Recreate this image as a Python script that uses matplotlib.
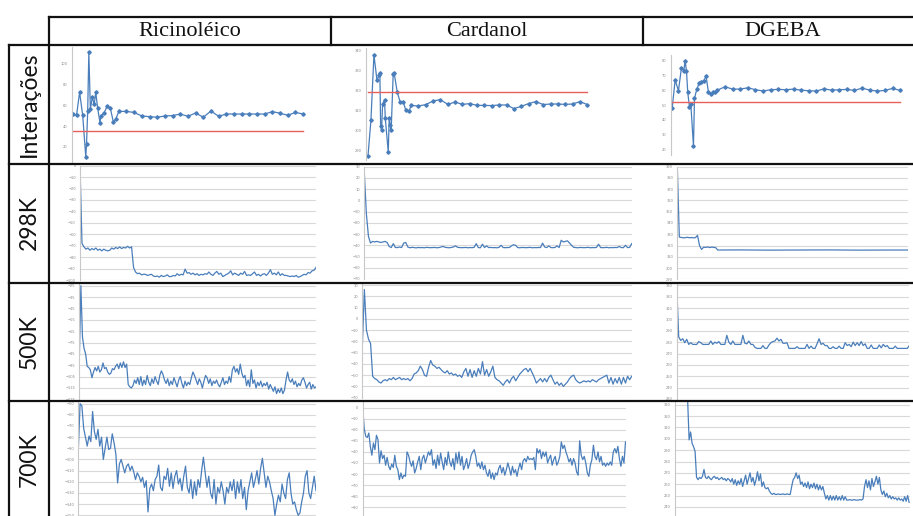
import matplotlib
matplotlib.use("Agg")
import numpy as np
import matplotlib.pyplot as plt
from matplotlib.lines import Line2D

# ---- table text ----
col_titles = ["Ricinoléico", "Cardanol", "DGEBA"]
row_titles = ["Interações", "298K", "500K", "700K"]

# ---- row 1: interaction energy vs iteration ----
iter_tail_x = [60, 70, 80, 90, 100, 110, 120, 130, 140, 150, 160, 170, 180,
               190, 200, 210, 220, 230, 240, 250, 260, 270, 280, 290, 300]

ric_it_x = [0, 5, 9, 13, 17, 18, 19.5, 21, 23, 25.5, 28, 30, 32.5, 35.5, 37,
            41, 45, 49, 53, 56] + iter_tail_x
ric_it_y = [51.5, 50.3, 72.3, 50.3, 10.8, 22.5, 54, 110.5, 56, 67.5, 60.8, 72.3,
            57, 43.3, 49.6, 52.8, 59.2, 57, 43.6, 46.5,
            54, 54, 53, 49.6, 49, 48.4, 49.6, 50, 51.5, 49.3, 52.5, 48.4, 54.4,
            49.3, 51.5, 51.5, 51.5, 51.5, 51.5, 51.5, 53.8, 52.2, 50.3, 53, 51.5]
ric_ref = 35.3

car_it_x = [1.4, 5.4, 9.5, 13.6, 16.7, 17.6, 18.6, 19.9, 21.3, 24, 24.9, 29,
            30.3, 31.7, 33, 35.7, 37.1, 41.2, 45.2, 49.3, 52.9, 57.5] + iter_tail_x
car_it_y = [287, 304.8, 337.5, 325, 327.5, 328.7, 302, 300, 313, 315, 306, 289,
            306, 302.5, 300, 328, 328.3, 319, 314, 314, 310, 309.5,
            312.3, 312, 312.7, 314.5, 315.2, 312.8, 314, 312.8, 313.2, 312.3,
            312.3, 312.2, 312.5, 312.5, 310.7, 311.8, 313.2, 314.2, 312.7, 313,
            313, 312.8, 313, 314.2, 312.7]
car_ref = 319.2

dge_it_x = [0.6, 4.5, 8.9, 12.8, 15.9, 17.6, 19.4, 21.1, 23.3, 25.1, 28.6, 29.9,
            32.9, 36, 39, 42.1, 45.2, 48.2, 51.7, 54.8, 57.4] + iter_tail_x
dge_it_y = [47.7, 66.9, 59.7, 75.3, 73, 80, 73.2, 58.6, 48.8, 50.7, 22.2, 54.5,
            60.6, 64.7, 65.8, 66.5, 69.6, 58.8, 57.7, 58.6, 58.6,
            60.1, 62.4, 60.8, 60.8, 61.7, 60.4, 59.5, 60.4, 60.6, 60.4, 60.8,
            60.1, 59.7, 59.5, 61, 60.1, 60.4, 60.6, 59.9, 61.5, 60.1, 59.5,
            59.9, 61.3, 59.9]
dge_ref = 52.2

# ---- row 2: 298K ----
ric_298 = [0, -68, -71, -73, -72, -74, -72.5, -73.5, -72, -74, -73, -74.5, -73,
           -74, -74.5, -74, -72, -73, -71.5, -72.5, -71, -72.5, -71.5, -72, -70.5,
           -72, -71, -89, -93, -94.5, -94, -95.5, -95, -95, -96, -95.5, -95, -96.5,
           -97, -96.5, -97.5, -96, -97, -96.5, -95.5, -97, -97, -96, -96.5, -94.5,
           -96, -95, -95.5, -90.5, -94, -93.5, -95, -94, -95.5, -94.5, -96, -95,
           -95.5, -94.5, -95, -93, -95, -96, -94, -92.5, -95, -94, -97, -96, -95,
           -94, -92, -95.5, -94, -95, -96, -94, -95, -92.5, -96, -95.5, -96, -94.5,
           -93, -96, -95, -96.5, -95, -94.5, -96, -94, -91, -95, -94, -95.5, -93,
           -96, -94.5, -96, -96, -96.5, -97, -96.5, -97, -96, -97.5, -97, -96, -95,
           -95.5, -93.5, -94, -92, -91.5, -89]

car_298 = [25, -12, -32, -38, -36.5, -37, -36.5, -37, -37.5, -37, -36.5, -37.5,
           -41, -42, -38.5, -42, -42, -41.5, -42, -38, -37.5, -41.5, -42.2, -41.8,
           -42, -42.3, -41.9, -42.1, -42, -42.2, -41.8, -42, -42.1, -42, -41.9,
           -42.2, -42, -41.5, -41, -41.8, -42, -42.2, -41.9, -41.5, -40.5, -41.8,
           -42, -42.1, -42, -41.9, -42.2, -42, -42.1, -41.8, -38.5, -42, -42.2,
           -39, -42, -40.5, -42, -41.9, -42.1, -42, -42.2, -41.8, -40, -42, -42.1,
           -42, -41.9, -40.5, -39.5, -40, -42, -42.2, -41.9, -42, -42.1, -42,
           -41.8, -42.2, -42, -42.1, -41.9, -42, -38, -41.5, -42, -40.5, -42,
           -42.1, -41.9, -40.5, -42, -35.5, -37, -36.5, -36, -38, -40, -41.8, -42,
           -42.2, -41.9, -42, -42.1, -42, -41.8, -42.2, -42, -42.1, -41.9, -39,
           -42, -42.1, -42, -41.8, -42.2, -42, -42.1, -41.9, -42, -41, -42, -42.1,
           -40, -42, -41.9, -38.5]

dge_298_x = [0, 1, 2, 3, 4, 5, 6, 7, 8, 9, 10, 11, 12, 13, 14, 15, 16, 17, 18,
             19, 20, 30, 45, 60, 75, 90, 105, 114]
dge_298_y = [390, 327.5, 327.2, 326.8, 327, 327.3, 326.9, 327.1, 326.8, 327, 329,
             320, 316.5, 318.5, 318.3, 318.7, 318.2, 318.6, 318.4, 318.1, 316,
             316.1, 315.9, 316, 316.1, 315.9, 316, 316]

# ---- row 3: 500K ----
ric_500 = [-91, -25, -70, -80, -85, -96, -97, -99, -106, -101, -97, -100, -96,
           -101, -99, -93, -98, -97, -101, -103, -102, -98, -99, -96, -94, -98,
           -93, -97, -92, -97, -94, -112, -114, -115, -113, -108, -111, -106,
           -112, -105, -113, -108, -112, -104, -110, -113, -107, -111, -105, -109,
           -112, -104, -100, -103, -108, -111, -107, -113, -109, -112, -106, -110,
           -114, -108, -105, -111, -115, -109, -113, -110, -112, -106, -101, -104,
           -108, -112, -107, -110, -115, -109, -104, -106, -111, -107, -113, -109,
           -111, -108, -112, -114, -110, -106, -112, -109, -111, -105, -110, -99,
           -96, -101, -98, -103, -94, -102, -106, -104, -113, -108, -114, -99,
           -111, -108, -115, -110, -113, -109, -114, -111, -113, -110, -116, -112,
           -115, -118, -114, -120, -116, -119, -115, -120, -117, -108, -101, -108,
           -110, -107, -112, -109, -114, -111, -113, -108, -106, -110, -115, -112,
           -110, -116, -112, -115, -114]

car_500 = [-25, 26, -10, -18, -22, -51, -53, -54, -56, -57, -55, -54, -55, -53,
           -54, -52, -54, -53, -52, -54, -53, -54, -53, -55, -53, -49, -48, -46,
           -42, -45, -50, -51, -43, -37, -41, -42, -44, -43, -45, -47, -48, -46,
           -49, -48, -50, -49, -51, -50, -52, -47, -44, -51, -45, -52, -46, -51,
           -44, -49, -38, -50, -45, -51, -47, -42, -52, -54, -55, -57, -59, -56,
           -54, -57, -53, -51, -55, -52, -49, -47, -45, -44, -47, -44, -48, -52,
           -57, -55, -53, -56, -53, -56, -52, -50, -54, -58, -56, -59, -57, -60,
           -58, -56, -53, -51, -50, -54, -56, -57, -56, -55, -56, -55, -56, -54,
           -55, -56, -54, -53, -52, -51, -50, -57, -52, -58, -53, -57, -52, -58,
           -52, -57, -51, -54, -51]

dge_500 = [330, 284.5, 281.5, 283, 279.5, 282.5, 278, 279.5, 278, 278, 278, 280.5,
           279.5, 278, 278, 278, 278, 281, 278, 280, 279, 280.5, 278, 278, 278,
           286, 280, 278, 281, 278, 278, 278, 278, 286, 279, 278.5, 281, 278, 278,
           275.5, 274.5, 274.5, 274.5, 277, 274.5, 274.5, 277.5, 279.5, 280.5,
           281, 283.5, 281, 282.5, 279, 279, 279.5, 274.5, 274.5, 274.5, 274.5,
           276, 274.5, 274.5, 274.5, 274.5, 278, 274.5, 276.5, 274.5, 274.5,
           278.5, 283, 278, 279, 277, 277, 274.5, 274.5, 276, 274.5, 274.5, 276.5,
           274.5, 274.5, 279.5, 277, 278, 276, 280, 277, 279.5, 277, 280.5, 277,
           278.5, 274.5, 274.5, 277.5, 274.5, 274.5, 274.5, 277.5, 275, 278, 276,
           277, 274.5, 274.5, 274.5, 276.5, 274.5, 274.5, 274.5, 274.5, 274.5,
           274.5, 277]

# ---- row 4: 700K ----
ric_700 = [-92, -50, -52, -72, -80, -88, -79, -84, -57, -75, -82, -73, -88, -80,
           -100, -90, -80, -91, -90, -77, -85, -95, -121, -104, -100, -106, -112,
           -106, -104, -110, -106, -111, -118, -112, -115, -120, -116, -125, -119,
           -147, -126, -122, -128, -118, -115, -105, -125, -128, -115, -118, -108,
           -124, -112, -126, -115, -110, -122, -117, -128, -115, -106, -125, -130,
           -118, -135, -120, -132, -118, -125, -110, -98, -112, -125, -115, -130,
           -135, -118, -140, -125, -130, -120, -128, -140, -125, -130, -120, -128,
           -118, -135, -120, -130, -118, -135, -125, -145, -128, -120, -112, -125,
           -118, -110, -122, -108, -99, -112, -125, -115, -120, -128, -135, -150,
           -140, -132, -138, -122, -130, -135, -118, -112, -130, -140, -138, -145,
           -150, -148, -138, -130, -115, -110, -130, -135, -125, -115, -128]

car_700 = [0, -19, -26, -27, -23, -35, -43, -32, -38, -25, -29, -50, -39, -46, -43,
           -52, -45, -53, -56, -51, -54, -43, -53, -56, -65, -59, -64, -61, -62,
           -40, -43, -49, -53, -48, -59, -55, -49, -44, -56, -46, -43, -50, -45,
           -40, -43, -38, -52, -47, -55, -43, -52, -41, -49, -56, -45, -52, -40,
           -49, -53, -46, -56, -41, -50, -40, -52, -44, -56, -52, -46, -55, -50,
           -43, -40, -38, -44, -53, -50, -55, -49, -56, -52, -59, -62, -56, -64,
           -59, -65, -59, -61, -55, -52, -59, -54, -61, -56, -50, -55, -61, -53,
           -59, -56, -62, -55, -50, -56, -48, -46, -49, -44, -47, -46, -47, -45,
           -56, -37, -41, -38, -46, -40, -44, -40, -50, -46, -43, -52, -47, -44,
           -52, -49, -44, -31, -37, -34, -40, -44, -49, -46, -52, -46, -50, -58,
           -61, -30, -43, -47, -44, -50, -59, -62, -52, -47, -34, -44, -47, -40,
           -49, -44, -52, -50, -53, -50, -52, -49, -52, -40, -37, -41, -35, -46,
           -53, -44, -50, -31]

dge_700 = [334, 299, 306, 296, 293, 289, 266, 264, 266, 265, 267, 273, 266, 265,
           267, 265, 264, 266, 267, 265, 266, 264, 265, 266, 264, 265, 263, 265,
           264, 262, 265, 260, 264, 259, 263, 260, 265, 258, 263, 268, 260, 265,
           270, 262, 266, 259, 264, 271, 263, 269, 258, 262, 257, 256, 257, 254,
           252, 251, 252, 251, 251, 251.5, 251, 251, 251.5, 251, 251, 251.5, 251,
           251, 258, 264, 266, 270, 265, 268, 260, 262, 258, 261, 257, 262, 256,
           260, 257, 261, 256, 260, 255, 259, 255, 258, 252, 247, 250, 246, 250,
           246, 249.5, 246, 250, 246, 249, 246, 250, 246, 249, 246, 246, 246.5,
           246, 246, 246.5, 246, 246, 246, 246.5, 246, 247, 258, 264, 257, 263,
           255, 265, 258, 262, 267, 260, 266, 255, 251, 254, 249, 252, 248, 250,
           247, 249, 247, 248, 246, 248, 246, 247, 245, 249, 245, 250, 244]

W, H = 913, 516
BLUE = "#4a7ebb"
LINE = "#111111"

fig = plt.figure(figsize=(W / 100, H / 100), dpi=100)
fig.patch.set_facecolor("white")


def cell_axes(left, right, top, bottom):
    # pixel box (from top-left) -> figure fraction
    return fig.add_axes([left / W, 1 - bottom / H, (right - left) / W, (bottom - top) / H])


def excel_style(ax, yticks, grid=True):
    for s in ["top", "right", "bottom"]:
        ax.spines[s].set_visible(False)
    ax.spines["left"].set_color("#c8c8c8")
    ax.spines["left"].set_linewidth(0.8)
    ax.set_xticks([])
    ax.set_yticks(yticks)
    ax.tick_params(axis="y", length=0, pad=3, labelsize=2.6, labelcolor="#8a8a8a")
    if grid:
        ax.yaxis.grid(True, color="#d9d9d9", lw=0.8)
        ax.set_axisbelow(True)
    ax.set_facecolor("none")


def iter_plot(box, x, y, ref, ylim, yticks):
    ax = cell_axes(*box)
    ax.plot(x, y, color=BLUE, lw=0.9, marker="D", ms=1.8, mec=BLUE, mfc=BLUE)
    ax.plot([x[0], x[-1]], [ref, ref], color="#e8605a", lw=1.0)
    ax.set_xlim(-1.3, 305)
    ax.set_ylim(*ylim)
    excel_style(ax, yticks, grid=False)
    return ax


def series_plot(box, y, ylim, yticks, x=None, xlim=None):
    ax = cell_axes(*box)
    if x is None:
        x = np.arange(len(y))
    ax.plot(x, y, color=BLUE, lw=0.9)
    ax.set_xlim(xlim if xlim is not None else (x[0], x[-1]))
    ax.set_ylim(*ylim)
    excel_style(ax, yticks)
    return ax


# row 1
iter_plot((71.7, 307, 46.7, 162), ric_it_x, ric_it_y, ric_ref, (5.6, 115.9),
          [20, 40, 60, 80, 100])
iter_plot((366, 591, 48, 160), car_it_x, car_it_y, car_ref, (285, 341),
          [290, 300, 310, 320, 330, 340])
iter_plot((670.7, 904, 55, 155), dge_it_x, dge_it_y, dge_ref, (16.2, 83.9),
          [20, 30, 40, 50, 60, 70, 80])

# row 2
series_plot((80, 316, 165.7, 280), ric_298, (-100, 0), list(range(-100, 1, 10)))
series_plot((364.3, 631.7, 166.7, 279), car_298, (-70, 30), list(range(-70, 31, 10)))
series_plot((677.3, 907.7, 166.7, 279.3), dge_298_y, (290, 390),
            list(range(290, 391, 10)), x=dge_298_x, xlim=(0, 114))

# row 3
series_plot((79.3, 316, 283, 399.3), ric_500, (-125, -22.6), list(range(-125, -24, 10)))
series_plot((362.3, 631.7, 283, 397.7), car_500, (-70, 31.8), list(range(-70, 31, 10)))
series_plot((676.7, 909.3, 283, 399), dge_500, (230, 332), list(range(230, 331, 10)))

# row 4
series_plot((78.3, 316, 401, 517.5), ric_700, (-152, -47.6), list(range(-150, -49, 10)))
series_plot((362.7, 625.5, 401, 516), car_700, (-97.8, 5.9), list(range(-90, 1, 10)))
series_plot((675, 910, 401, 516), dge_700, (232, 333.3), list(range(240, 331, 10)),
            x=np.arange(len(dge_700)), xlim=(-8.5, 149.6))


# ---- table lines ----
def hline(y, x0, x1):
    fig.add_artist(Line2D([x0 / W, x1 / W], [1 - y / H, 1 - y / H],
                          transform=fig.transFigure, color=LINE, lw=1.6, zorder=10))


def vline(x, y0, y1):
    fig.add_artist(Line2D([x / W, x / W], [1 - y0 / H, 1 - y1 / H],
                          transform=fig.transFigure, color=LINE, lw=1.6, zorder=10))


hline(17, 48.5, 913)
for yy in [44.5, 164, 282.5, 401]:
    hline(yy, 9, 913)
vline(9, 44.5, 516)
vline(48.5, 17, 516)
vline(331, 17, 44.5)
vline(643, 17, 44.5)

# header titles
for name, cx in zip(col_titles, [189.5, 487, 783]):
    fig.text(cx / W, 1 - 31 / H, name, ha="center", va="center",
             family="Liberation Serif", fontsize=16, color="#111111")

# row titles
for name, cy in zip(row_titles, [104, 222, 342, 460]):
    fig.text(29.5 / W, 1 - cy / H, name, ha="center", va="center", rotation=90,
             family="Lato", fontsize=16.5, color="#111111")

fig.savefig("out.png", dpi=100, facecolor="white")
